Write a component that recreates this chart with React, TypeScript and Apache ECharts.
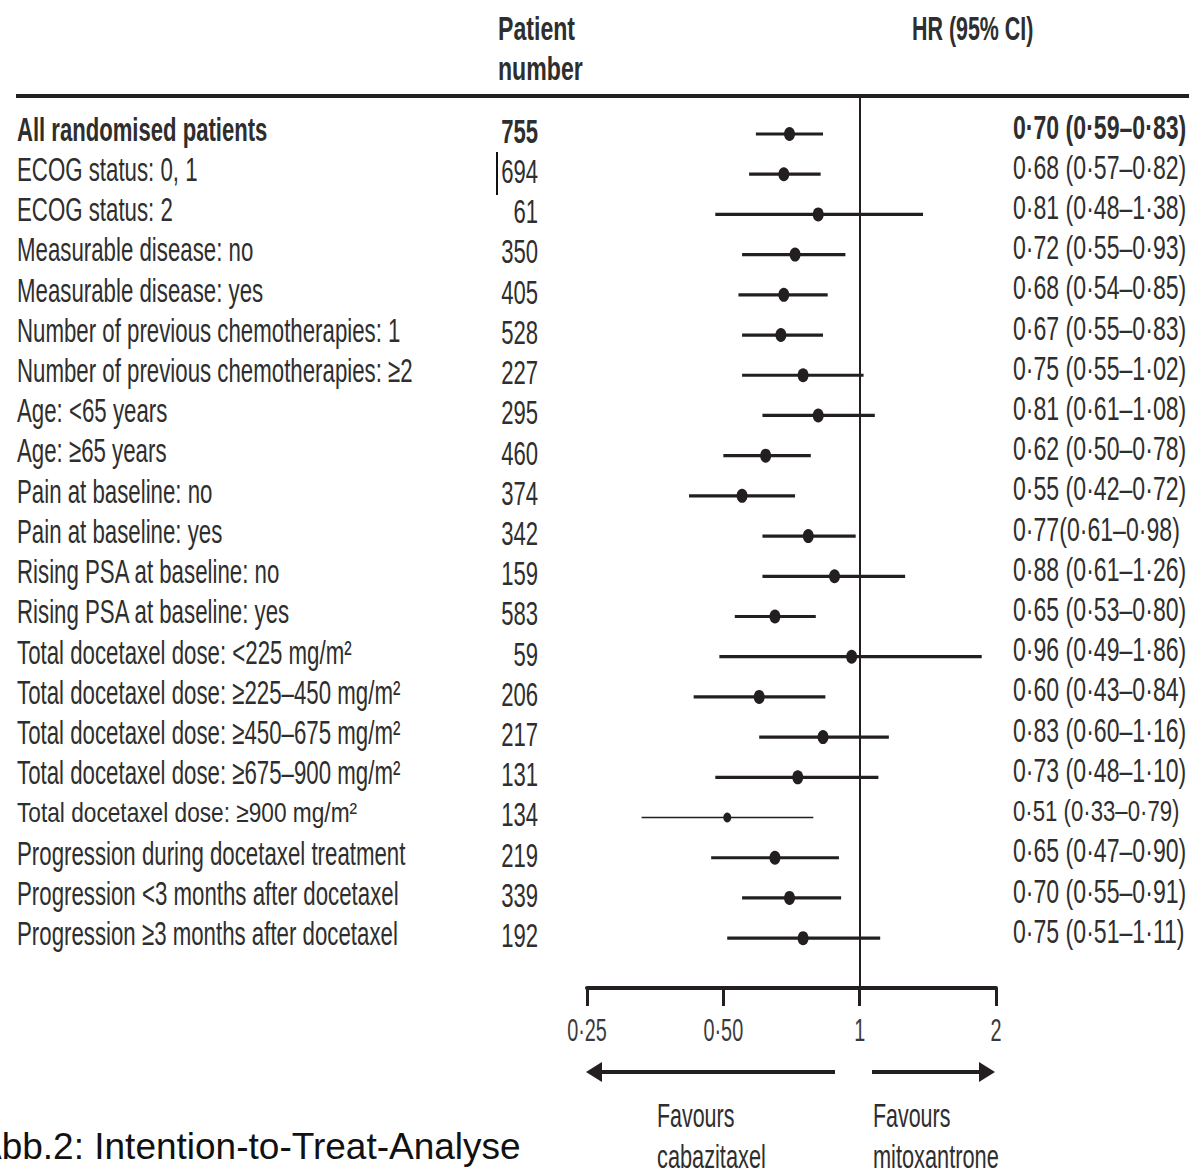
import React, { useEffect, useRef } from "react";
import * as echarts from "echarts";

const rowLabels = [
  "All randomised patients",
  "ECOG status: 0, 1",
  "ECOG status: 2",
  "Measurable disease: no",
  "Measurable disease: yes",
  "Number of previous chemotherapies: 1",
  "Number of previous chemotherapies: ≥2",
  "Age: <65 years",
  "Age: ≥65 years",
  "Pain at baseline: no",
  "Pain at baseline: yes",
  "Rising PSA at baseline: no",
  "Rising PSA at baseline: yes",
  "Total docetaxel dose: <225 mg/m²",
  "Total docetaxel dose: ≥225–450 mg/m²",
  "Total docetaxel dose: ≥450–675 mg/m²",
  "Total docetaxel dose: ≥675–900 mg/m²",
  "Total docetaxel dose: ≥900 mg/m²",
  "Progression during docetaxel treatment",
  "Progression <3 months after docetaxel",
  "Progression ≥3 months after docetaxel",
];

const patientNumbers = [755, 694, 61, 350, 405, 528, 227, 295, 460, 374, 342, 159, 583, 59, 206, 217, 131, 134, 219, 339, 192];

const hrValues = [0.70, 0.68, 0.81, 0.72, 0.68, 0.67, 0.75, 0.81, 0.62, 0.55, 0.77, 0.88, 0.65, 0.96, 0.60, 0.83, 0.73, 0.51, 0.65, 0.70, 0.75];
const ciLower = [0.59, 0.57, 0.48, 0.55, 0.54, 0.55, 0.55, 0.61, 0.50, 0.42, 0.61, 0.61, 0.53, 0.49, 0.43, 0.60, 0.48, 0.33, 0.47, 0.55, 0.51];
const ciUpper = [0.83, 0.82, 1.38, 0.93, 0.85, 0.83, 1.02, 1.08, 0.78, 0.72, 0.98, 1.26, 0.80, 1.86, 0.84, 1.16, 1.10, 0.79, 0.90, 0.91, 1.11];

const hrLabels = [
  "0·70 (0·59–0·83)",
  "0·68 (0·57–0·82)",
  "0·81 (0·48–1·38)",
  "0·72 (0·55–0·93)",
  "0·68 (0·54–0·85)",
  "0·67 (0·55–0·83)",
  "0·75 (0·55–1·02)",
  "0·81 (0·61–1·08)",
  "0·62 (0·50–0·78)",
  "0·55 (0·42–0·72)",
  "0·77(0·61–0·98)",
  "0·88 (0·61–1·26)",
  "0·65 (0·53–0·80)",
  "0·96 (0·49–1·86)",
  "0·60 (0·43–0·84)",
  "0·83 (0·60–1·16)",
  "0·73 (0·48–1·10)",
  "0·51 (0·33–0·79)",
  "0·65 (0·47–0·90)",
  "0·70 (0·55–0·91)",
  "0·75 (0·51–1·11)",
];

const tickValues = [0.25, 0.5, 1, 2];
const tickLabels = ["0·25", "0·50", "1", "2"];

const FONT = "'Liberation Sans', Arial, sans-serif";
const INK = "#231f20";
const TXT = "#2e2e2e";
const SMALL_ROW = 17;
const BOLD_ROW = 0;

export default function App() {
  const ref = useRef<HTMLDivElement>(null);

  useEffect(() => {
    if (!ref.current) return;
    const chart = echarts.init(ref.current, null, { renderer: "svg" });

    const textStyle = (text: string, size: number, align: string, weight = "normal", fill = TXT) => ({
      text,
      fontFamily: FONT,
      fontSize: size,
      fontWeight: weight,
      fill,
      align,
      textAlign: align,
      verticalAlign: "middle",
      textVerticalAlign: "middle",
    });

    const option: any = {
      animation: false,
      backgroundColor: "#ffffff",
      grid: { left: 587, right: 193, top: 96, bottom: 184 },
      xAxis: {
        type: "log",
        logBase: 2,
        min: 0.25,
        max: 2,
        splitNumber: 3,
        position: "bottom",
        axisLine: { show: true, onZero: false, lineStyle: { color: INK, width: 4 } },
        axisTick: { show: true, length: 18, lineStyle: { color: INK, width: 3 } },
        axisLabel: { show: false },
        splitLine: { show: false },
      },
      yAxis: {
        type: "value",
        min: -0.945,
        max: 21.24,
        inverse: true,
        show: false,
        splitLine: { show: false },
      },
      series: [
        {
          type: "custom",
          name: "CI",
          clip: false,
          data: ciLower.map((lo, i) => [lo, ciUpper[i], i]),
          encode: { x: [0, 1], y: 2 },
          renderItem: (params: any, api: any) => {
            const idx = params.dataIndex;
            const p1 = api.coord([api.value(0), api.value(2)]);
            const p2 = api.coord([api.value(1), api.value(2)]);
            return {
              type: "line",
              shape: { x1: p1[0], y1: p1[1], x2: p2[0], y2: p2[1] },
              style: { stroke: INK, lineWidth: idx === SMALL_ROW ? 1.3 : 3.2 },
            };
          },
          z: 2,
        },
        {
          type: "scatter",
          name: "HR",
          data: hrValues.map((v, i) => [v, i]),
          symbol: "circle",
          symbolSize: (_v: any, p: any) => (p.dataIndex === SMALL_ROW ? [8, 10] : [11, 14]),
          itemStyle: { color: INK, opacity: 1 },
          z: 3,
          markLine: {
            silent: true,
            symbol: "none",
            label: { show: false },
            lineStyle: { color: INK, width: 2, type: "solid" },
            data: [{ xAxis: 1 }],
          },
        },
        {
          type: "custom",
          name: "rows",
          clip: false,
          data: hrValues.map((v, i) => [v, i]),
          encode: { x: 0, y: 1 },
          renderItem: (params: any, api: any) => {
            const idx = params.dataIndex;
            const y = api.coord([1, api.value(1)])[1];
            const small = idx === SMALL_ROW;
            const bold = idx === BOLD_ROW;
            return {
              type: "group",
              children: [
                {
                  type: "text",
                  x: 17,
                  y: y - 5,
                  scaleX: small ? 0.81 : bold ? 0.65 : 0.655,
                  style: textStyle(rowLabels[idx], small ? 28 : 34, "left", bold ? "bold" : "normal"),
                },
                {
                  type: "text",
                  x: 538,
                  y: y - 3,
                  scaleX: 0.65,
                  style: textStyle(String(patientNumbers[idx]), 34, "right", bold ? "bold" : "normal"),
                },
                {
                  type: "text",
                  x: 1013,
                  y: y - 7,
                  scaleX: small ? 0.74 : 0.7,
                  style: textStyle(hrLabels[idx], small ? 30 : 33, "left", bold ? "bold" : "normal"),
                },
              ],
            };
          },
          z: 4,
        },
        {
          type: "custom",
          name: "ticks",
          clip: false,
          data: tickValues.map((v) => [v, 0]),
          encode: { x: 0, y: 1 },
          renderItem: (params: any, api: any) => {
            const idx = params.dataIndex;
            const x = api.coord([api.value(0), 0])[0];
            return {
              type: "text",
              x,
              y: 1030,
              scaleX: 0.62,
              style: textStyle(tickLabels[idx], 32, "center", "normal", "#3a3a3a"),
            };
          },
        },
      ],
      graphic: [
        { type: "line", shape: { x1: 16, y1: 96, x2: 1189, y2: 96 }, style: { stroke: INK, lineWidth: 4 } },
        { type: "text", x: 498, y: 28, scaleX: 0.68, style: textStyle("Patient", 34, "left", "bold") },
        { type: "text", x: 498, y: 68, scaleX: 0.68, style: textStyle("number", 34, "left", "bold") },
        { type: "text", x: 912, y: 28, scaleX: 0.63, style: textStyle("HR (95% CI)", 34, "left", "bold") },
        { type: "line", shape: { x1: 497, y1: 152, x2: 497, y2: 195 }, style: { stroke: "#111", lineWidth: 2 } },
        { type: "line", shape: { x1: 835, y1: 1072, x2: 598, y2: 1072 }, style: { stroke: INK, lineWidth: 4 } },
        { type: "polygon", shape: { points: [[586, 1072], [602, 1062], [602, 1082]] }, style: { fill: INK } },
        { type: "line", shape: { x1: 872, y1: 1072, x2: 982, y2: 1072 }, style: { stroke: INK, lineWidth: 4 } },
        { type: "polygon", shape: { points: [[995, 1072], [979, 1062], [979, 1082]] }, style: { fill: INK } },
        { type: "text", x: 657, y: 1115, scaleX: 0.63, style: textStyle("Favours", 34, "left") },
        { type: "text", x: 657, y: 1156, scaleX: 0.64, style: textStyle("cabazitaxel", 34, "left") },
        { type: "text", x: 873, y: 1115, scaleX: 0.63, style: textStyle("Favours", 34, "left") },
        { type: "text", x: 873, y: 1156, scaleX: 0.64, style: textStyle("mitoxantrone", 34, "left") },
        { type: "text", x: -23, y: 1146, style: textStyle("Abb.2: Intention-to-Treat-Analyse", 37, "left", "normal", "#111111") },
      ],
    };

    chart.setOption(option);
    return () => chart.dispose();
  }, []);

  return (
    <div
      ref={ref}
      style={{ position: "absolute", left: 0, top: 0, width: 1189, height: 1172, background: "#fff" }}
    />
  );
}
